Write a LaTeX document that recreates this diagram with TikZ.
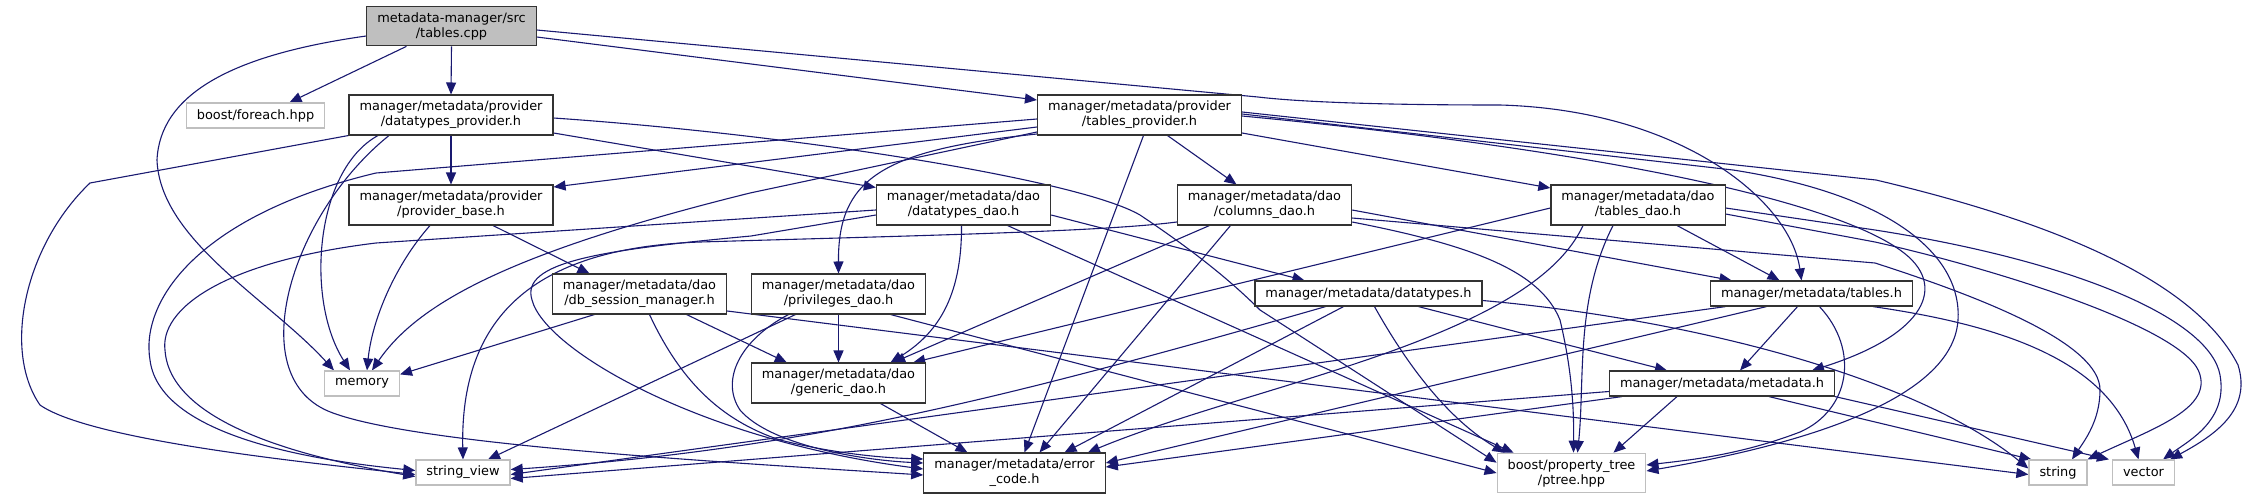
\documentclass[tikz,border=0pt]{standalone}
\usepackage{fontspec}
\setmainfont{DejaVu Sans}
\usepackage{xcolor}
\usepackage{tikz}
\usetikzlibrary{arrows.meta,backgrounds}
\definecolor{incblue}{HTML}{191970}
\tikzset{
  box/.style={rectangle,draw=black!80,fill=white,line width=1.2pt,align=center,
              inner xsep=10.5pt,inner ysep=6pt,minimum height=25pt,
              font=\fontsize{12.9}{15}\selectfont},
  ext/.style={box,draw=black!25},
  src/.style={box,fill=black!25},
  inc/.style={draw=incblue,line width=1.1pt,-{Triangle[length=12pt,width=10pt]}},
}
\begin{document}
\begin{tikzpicture}[x=1pt,y=-1pt]
  \useasboundingbox (0,0) rectangle (2251,499);
  \node[src] (cpp) at (451.5,26) {metadata-manager/src\\/tables.cpp};
  \node[ext] (foreach) at (255.5,115.5) {boost/foreach.hpp};
  \node[box] (dtprov) at (451,115) {manager/metadata/provider\\/datatypes\_provider.h};
  \node[box] (tprov) at (1139.5,115) {manager/metadata/provider\\/tables\_provider.h};
  \node[box] (pbase) at (451,205) {manager/metadata/provider\\/provider\_base.h};
  \node[box] (dtdao) at (963.5,205) {manager/metadata/dao\\/datatypes\_dao.h};
  \node[box] (coldao) at (1264.5,205) {manager/metadata/dao\\/columns\_dao.h};
  \node[box] (tdao) at (1638,205) {manager/metadata/dao\\/tables\_dao.h};
  \node[box] (dbsess) at (639.5,294) {manager/metadata/dao\\/db\_session\_manager.h};
  \node[box] (privdao) at (838.5,294) {manager/metadata/dao\\/privileges\_dao.h};
  \node[box] (dtypes) at (1368.5,293.5) {manager/metadata/datatypes.h};
  \node[box] (tablesh) at (1811.5,293.5) {manager/metadata/tables.h};
  \node[ext] (memory) at (362,383.5) {memory};
  \node[box] (generic) at (838.5,383) {manager/metadata/dao\\/generic\_dao.h};
  \node[box] (metah) at (1722,383.5) {manager/metadata/metadata.h};
  \node[ext] (strview) at (463,472.5) {string\_view};
  \node[box] (errcode) at (1014.5,473) {manager/metadata/error\\\_code.h};
  \node[ext] (ptree) at (1571.5,473) {boost/property\_tree\\/ptree.hpp};
  \node[ext] (string) at (2058,472.5) {string};
  \node[ext] (vector) at (2143.5,472.5) {vector};
  % include edges, kept behind the boxes
  \begin{pgfonlayer}{background}
  \draw[inc] ([xshift=-45]cpp.south) -- ([xshift=34]foreach.north);
  \draw[inc] (cpp.south) -- (dtprov.north);
  \draw[inc] ([yshift=-11]cpp.east) -- ([yshift=15]tprov.west);
  \draw[inc] ([yshift=-4]cpp.east) -- (1258,97) .. controls (1300,102) and (1380,105) .. (1500,105) .. controls (1680,110) and (1790,200) .. ([xshift=-10]tablesh.north);
  \draw[inc] ([yshift=-10]cpp.west) .. controls (230,55) and (160,95) .. (157,160) .. controls (160,240) and (270,300) .. ([xshift=-28]memory.north);

  \draw[inc] (dtprov.south) -- (pbase.north);
  \draw[inc] ([yshift=-18]dtprov.east) -- ([yshift=-3]dtdao.north west);
  \draw[inc] (dtprov.south west) -- (90,183) .. controls (25,245) and (2,350) .. (40,405) .. controls (90,440) and (300,462) .. ([yshift=-2]strview.west);
  \draw[inc] ([xshift=-73]dtprov.south) .. controls (315,170) and (305,300) .. ([xshift=-12]memory.north);
  \draw[inc] ([xshift=-62]dtprov.south) .. controls (290,215) and (240,380) .. (333,413) .. controls (420,445) and (720,462) .. ([yshift=-2]errcode.west);
  \draw[inc] ([yshift=-3]dtprov.east) .. controls (800,135) and (1080,180) .. (1140,215) .. controls (1200,255) and (1235,285) .. (1260,310) -- ([yshift=-10]ptree.north west);

  \draw[inc] ([xshift=-21]pbase.south) .. controls (395,265) and (372,320) .. ([xshift=5]memory.north);
  \draw[inc] ([xshift=42]pbase.south) -- ([xshift=-50]dbsess.north);

  \draw[inc] ([yshift=-12]tprov.west) -- ([yshift=18]pbase.east);
  \draw[inc] ([yshift=-17]tprov.west) -- (750,193) .. controls (520,250) and (420,300) .. ([xshift=10]memory.north);
  \draw[inc] ([yshift=-4]tprov.west) -- (376,173) .. controls (200,215) and (140,300) .. (150,360) .. controls (160,440) and (330,462) .. ([yshift=2]strview.west);
  \draw[inc] ([yshift=-19]tprov.west) .. controls (880,150) and (838,180) .. (privdao.north);
  \draw[inc] ([xshift=28]tprov.south) -- ([xshift=-28]coldao.north);
  \draw[inc] ([yshift=-18]tprov.east) -- ([yshift=17]tdao.west);
  \draw[inc] ([xshift=4]tprov.south) -- ([xshift=10]errcode.north);
  \draw[inc] ([yshift=3]tprov.east) -- (1876,180) .. controls (2080,228) and (2200,290) .. (2238,365) .. controls (2252,410) and (2215,435) .. ([xshift=-5]vector.north east);
  \draw[inc] ([yshift=1]tprov.east) -- (1733,170) .. controls (1900,196) and (1962,260) .. (1958,320) .. controls (1953,400) and (1800,445) .. ([yshift=2]ptree.east);
  \draw[inc] ([yshift=-1]tprov.east) .. controls (1600,150) and (1830,200) .. (1900,250) .. controls (1950,285) and (1925,335) .. ([xshift=90]metah.north);

  \draw[inc] ([xshift=-45]dbsess.south) -- ([yshift=-4]memory.north east);
  \draw[inc] ([xshift=47]dbsess.south) -- ([xshift=36]generic.north west);
  \draw[inc] ([xshift=10]dbsess.south) .. controls (680,380) and (720,420) .. (780,440) .. controls (840,455) and (890,458) .. ([yshift=14]errcode.west);
  \draw[inc] ([yshift=-17]dbsess.east) -- ([yshift=-2]string.west);

  \draw[inc] (privdao.south) -- (generic.north);
  \draw[inc] ([xshift=-43]privdao.south) -- ([xshift=25]strview.north);
  \draw[inc] ([xshift=-50]privdao.south) .. controls (740,340) and (720,380) .. (740,410) .. controls (770,445) and (860,460) .. ([yshift=10]errcode.west);
  \draw[inc] ([xshift=52]privdao.south) -- (ptree.west);

  \draw[inc] ([xshift=-2]dtdao.south) .. controls (962,300) and (935,335) .. ([xshift=52]generic.north);
  \draw[inc] ([yshift=-5]dtdao.west) -- (376,243) .. controls (220,262) and (160,310) .. (165,350) .. controls (170,430) and (330,462) .. ([yshift=-4]strview.west);
  \draw[inc] ([yshift=-10]dtdao.west) -- (751,236) .. controls (600,250) and (520,262) .. (532,300) .. controls (545,350) and (700,440) .. ([yshift=4]errcode.west);
  \draw[inc] ([yshift=-10]dtdao.east) -- ([xshift=-64]dtypes.north);
  \draw[inc] ([xshift=44]dtdao.south) -- ([xshift=17]ptree.north west);

  \draw[inc] ([xshift=-55]coldao.south) -- ([xshift=-33]generic.north east);
  \draw[inc] ([xshift=-34]coldao.south) -- ([xshift=25]errcode.north);
  \draw[inc] ([yshift=-17]coldao.west) .. controls (1100,232) and (900,236) .. (700,242) .. controls (530,248) and (460,320) .. (strview.north);
  \draw[inc] ([yshift=-5]coldao.east) -- ([xshift=-80]tablesh.north);
  \draw[inc] ([yshift=-17]coldao.east) .. controls (1470,245) and (1540,270) .. (1560,320) .. controls (1572,370) and (1574,410) .. ([xshift=2]ptree.north);
  \draw[inc] ([yshift=-13]coldao.east) -- (1875,263) .. controls (1990,300) and (2100,345) .. (2100,390) .. controls (2100,420) and (2085,440) .. ([xshift=14]string.north);

  \draw[inc] ([yshift=-3]tdao.west) -- ([xshift=-13]generic.north east);
  \draw[inc] ([xshift=-55]tdao.south) .. controls (1530,340) and (1250,385) .. ([xshift=-18]errcode.north east);
  \draw[inc] ([xshift=39]tdao.south) -- ([xshift=-32]tablesh.north);
  \draw[inc] ([xshift=-25]tdao.south) .. controls (1575,300) and (1585,380) .. ([xshift=6]ptree.north);
  \draw[inc] ([yshift=-9]tdao.east) -- (1875,242) .. controls (2000,270) and (2190,330) .. (2200,375) .. controls (2210,410) and (2150,430) .. (string.north east);
  \draw[inc] ([yshift=-3]tdao.east) -- (1875,230) .. controls (2080,262) and (2210,320) .. (2220,375) .. controls (2228,420) and (2190,440) .. ([xshift=-12]vector.north east);

  \draw[inc] ([xshift=50]dtypes.south) -- ([xshift=-55]metah.north);
  \draw[inc] ([xshift=-25]dtypes.south) -- ([xshift=50]errcode.north);
  \draw[inc] ([xshift=-43]dtypes.south) .. controls (1000,400) and (800,450) .. ([yshift=3]strview.east);
  \draw[inc] ([xshift=6]dtypes.south) .. controls (1410,370) and (1450,420) .. ([xshift=8]ptree.north west);
  \draw[inc] ([yshift=-7]dtypes.east) .. controls (1700,320) and (1920,380) .. ([yshift=4]string.west);

  \draw[inc] ([xshift=-14]tablesh.south) -- ([xshift=18]metah.north);
  \draw[inc] ([xshift=-86]tablesh.south) -- ([yshift=-2]strview.east);
  \draw[inc] ([xshift=-45]tablesh.south) -- ([yshift=10]errcode.east);
  \draw[inc] ([xshift=8]tablesh.south) .. controls (1860,350) and (1850,410) .. (1800,432) .. controls (1740,455) and (1690,460) .. ([yshift=8]ptree.east);
  \draw[inc] ([xshift=-40]tablesh.south east) .. controls (2000,325) and (2110,360) .. ([xshift=-5]vector.north);

  \draw[inc] ([yshift=-8]metah.west) -- ([yshift=-6]strview.east);
  \draw[inc] ([xshift=-100]metah.south) -- ([yshift=6]errcode.east);
  \draw[inc] ([xshift=-45]metah.south) -- ([xshift=42]ptree.north);
  \draw[inc] ([xshift=47]metah.south) -- ([xshift=3]string.north west);
  \draw[inc] (metah.south east) -- ([xshift=-3]vector.north west);

  \draw[inc] ([xshift=42]generic.south) -- ([xshift=-47]errcode.north);
  \end{pgfonlayer}
\end{tikzpicture}
\end{document}
